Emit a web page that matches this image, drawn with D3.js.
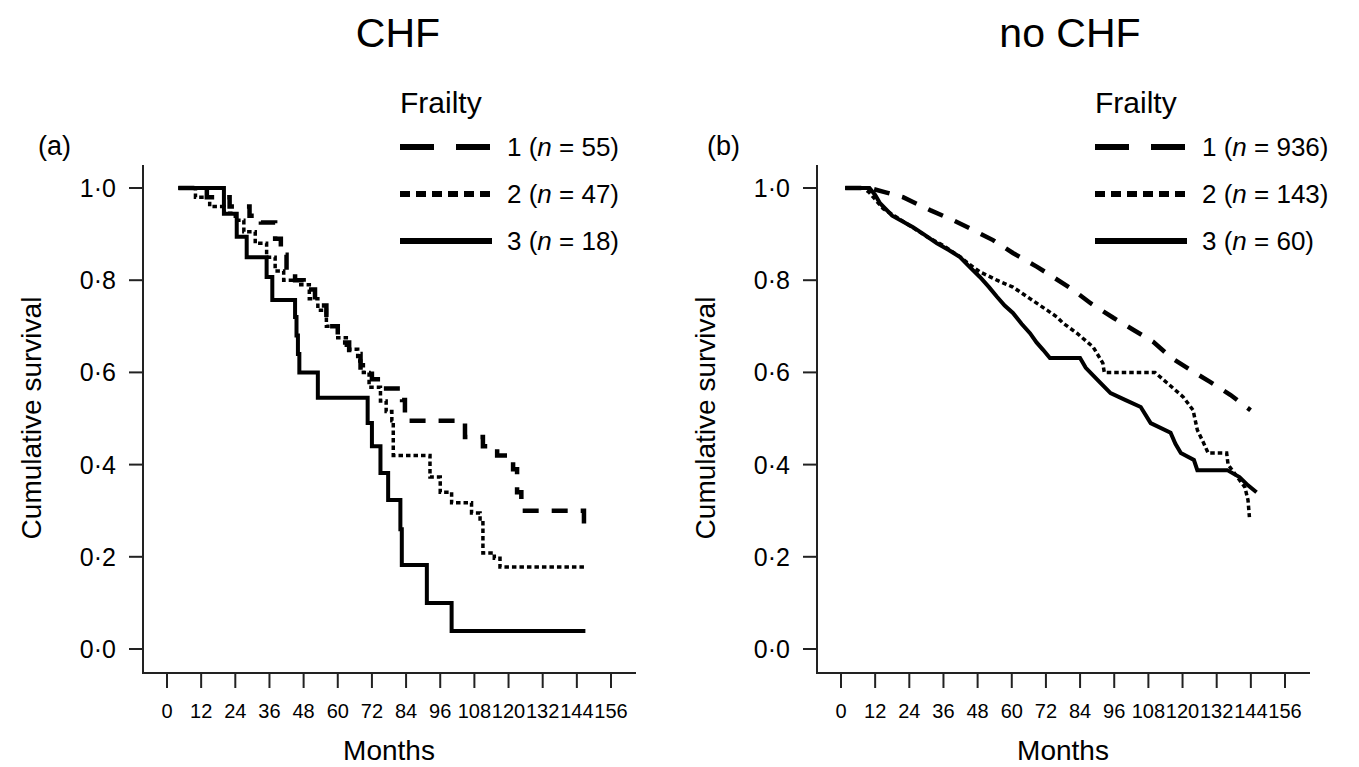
<!DOCTYPE html>
<html>
<head>
<meta charset="utf-8">
<script src="https://cdn.jsdelivr.net/npm/d3@7"></script>
<style>
  body { margin: 0; background: #fff; }
  svg { display: block; font-family: "Liberation Sans", Arial, Helvetica, sans-serif; }
</style>
</head>
<body>
<svg id="chart"></svg>
<script>
// tick values
const monthTicks = [0, 12, 24, 36, 48, 60, 72, 84, 96, 108, 120, 132, 144, 156];
const survivalTicks = [0, 0.2, 0.4, 0.6, 0.8, 1.0];

// legend
const frailtyLevels = ['1', '2', '3'];
const chfCounts = [55, 47, 18];
const noChfCounts = [936, 143, 60];

// Kaplan-Meier curves, [month, cumulative survival]
// (a) CHF
const chfFrailty1 = [[4, 1], [14, 0.98], [22, 0.96], [29, 0.94], [33, 0.925], [38, 0.89], [40, 0.855],
  [42, 0.82], [45, 0.80], [48, 0.78], [52, 0.745], [56, 0.70], [60, 0.665], [64, 0.64], [68, 0.605],
  [72, 0.585], [76, 0.565], [82.6, 0.54], [83.6, 0.495], [104.7, 0.46], [111, 0.44], [116, 0.42],
  [121.6, 0.39], [123, 0.34], [124.5, 0.30], [146.5, 0.26], [147, 0.26]];
const chfFrailty2 = [[4, 1], [10, 0.98], [15, 0.96], [20, 0.945], [24, 0.93], [27, 0.905], [31, 0.88],
  [35, 0.85], [38, 0.82], [41, 0.80], [47, 0.79], [50, 0.76], [53, 0.735], [56, 0.70], [60, 0.675],
  [63, 0.65], [67, 0.625], [69, 0.60], [71, 0.568], [75, 0.538], [77, 0.515], [79, 0.495], [79.5, 0.42],
  [92.4, 0.373], [96, 0.34], [100, 0.317], [107, 0.295], [110, 0.278], [111, 0.208], [115, 0.197],
  [117, 0.178], [147, 0.178]];
const chfFrailty3 = [[4, 1], [20, 0.944], [24.5, 0.894], [28, 0.85], [35, 0.807], [37, 0.757], [45, 0.72],
  [45.5, 0.68], [46, 0.64], [46.5, 0.60], [53, 0.545], [70.5, 0.49], [72, 0.44], [75, 0.382],
  [77.7, 0.323], [82, 0.26], [82.5, 0.182], [91.3, 0.10], [100, 0.039], [147, 0.039]];

// (b) no CHF
const noChfFrailty1 = [[1.5, 1], [10, 1], [16, 0.99], [21.8, 0.98], [31.3, 0.952], [39.4, 0.93],
  [46.4, 0.909], [53.4, 0.887], [60.4, 0.859], [68.9, 0.829], [74.5, 0.807], [81.5, 0.779], [87.7, 0.75],
  [95.8, 0.718], [102.8, 0.692], [109.8, 0.666], [115.8, 0.633], [122.8, 0.605], [129.8, 0.579],
  [136.9, 0.551], [143.9, 0.518]];
const noChfFrailty2 = [[1.5, 1], [8, 1], [10, 0.99], [14.8, 0.955], [20, 0.935], [25, 0.915], [30, 0.895],
  [36, 0.875], [42, 0.85], [45, 0.835], [48.8, 0.818], [54.8, 0.80], [60.4, 0.785], [66.4, 0.76],
  [72.4, 0.735], [75.9, 0.72], [78, 0.707], [82.9, 0.685], [88.6, 0.655], [92, 0.62], [92.5, 0.60],
  [110.3, 0.60], [114.6, 0.577], [120.2, 0.547], [123.7, 0.518], [125.2, 0.475], [127.4, 0.447],
  [129, 0.425], [135.5, 0.425], [136, 0.40], [141.9, 0.351], [143, 0.323], [143.5, 0.286]];
const noChfFrailty3 = [[1.5, 1], [10, 1], [12, 0.985], [13.7, 0.967], [18, 0.94], [25.3, 0.915], [29, 0.90],
  [33.7, 0.88], [38, 0.865], [41.8, 0.85], [45, 0.83], [48.8, 0.807], [52, 0.785], [54.8, 0.764],
  [57.5, 0.745], [60.4, 0.729], [63.5, 0.705], [66.4, 0.685], [68.7, 0.665], [71, 0.649], [73.4, 0.631],
  [84, 0.631], [86, 0.61], [90.2, 0.583], [94.7, 0.555], [100, 0.54], [105.3, 0.525], [108.8, 0.49],
  [115.8, 0.469], [117.5, 0.445], [119.4, 0.425], [124, 0.41], [125.2, 0.388], [135.7, 0.388],
  [140, 0.373], [143, 0.355], [146, 0.34]];

const width = 1359;
const height = 767;

const lineStyles = [
  { width: 4.5, dash: '16,13', legendDash: '34,22' },
  { width: 3.5, dash: '4.5,3', legendDash: '10,6' },
  { width: 4, dash: null, legendDash: null }
];

const svg = d3.select('#chart')
  .attr('width', width)
  .attr('height', height)
  .attr('viewBox', `0 0 ${width} ${height}`);

const fmt = v => d3.format('.1f')(v).replace('.', '\u00b7');

function drawPanel(cfg) {
  const g = svg.append('g');
  const axisX = cfg.axisX;

  const x = d3.scaleLinear().domain([0, 156]).range([axisX + 24, axisX + 468]);
  const y = d3.scaleLinear().domain([0, 1]).range([649, 188]);
  const xAxisY = 673;

  // axis lines
  g.append('line')
    .attr('x1', axisX).attr('x2', axisX)
    .attr('y1', 165).attr('y2', xAxisY)
    .attr('stroke', '#222').attr('stroke-width', 2);
  g.append('line')
    .attr('x1', axisX - 1).attr('x2', axisX + 493)
    .attr('y1', xAxisY).attr('y2', xAxisY)
    .attr('stroke', '#222').attr('stroke-width', 2);

  // y ticks
  g.selectAll('.ytick')
    .data(survivalTicks)
    .enter().append('line')
    .attr('x1', axisX - 14).attr('x2', axisX)
    .attr('y1', d => y(d)).attr('y2', d => y(d))
    .attr('stroke', '#222').attr('stroke-width', 2);
  g.selectAll('.ylabel')
    .data(survivalTicks)
    .enter().append('text')
    .attr('x', axisX - 27)
    .attr('y', d => y(d) + 9)
    .attr('text-anchor', 'end')
    .attr('font-size', 25)
    .text(fmt);

  // x ticks
  g.selectAll('.xtick')
    .data(monthTicks)
    .enter().append('line')
    .attr('x1', d => x(d)).attr('x2', d => x(d))
    .attr('y1', xAxisY).attr('y2', xAxisY + 15)
    .attr('stroke', '#222').attr('stroke-width', 2);
  g.selectAll('.xlabel')
    .data(monthTicks)
    .enter().append('text')
    .attr('x', d => x(d))
    .attr('y', 718)
    .attr('text-anchor', 'middle')
    .attr('font-size', 20)
    .text(d => d);

  // axis titles
  g.append('text')
    .attr('x', (x(0) + x(156)) / 2)
    .attr('y', 760)
    .attr('text-anchor', 'middle')
    .attr('font-size', 28)
    .text('Months');
  g.append('text')
    .attr('transform', `translate(${axisX - 102},418) rotate(-90)`)
    .attr('text-anchor', 'middle')
    .attr('font-size', 28)
    .text('Cumulative survival');

  // title and panel letter
  g.append('text')
    .attr('x', cfg.titleX)
    .attr('y', 47)
    .attr('text-anchor', 'middle')
    .attr('font-size', 41)
    .text(cfg.title);
  g.append('text')
    .attr('x', cfg.letterX)
    .attr('y', 155)
    .attr('font-size', 27)
    .text(cfg.letter);

  // curves
  cfg.series.forEach((data, i) => {
    const line = d3.line()
      .x(d => x(d[0]))
      .y(d => y(d[1]))
      .curve(cfg.stepped ? d3.curveStepAfter : d3.curveLinear);
    g.append('path')
      .datum(data)
      .attr('d', line)
      .attr('fill', 'none')
      .attr('stroke', '#000')
      .attr('stroke-width', lineStyles[i].width)
      .attr('stroke-dasharray', lineStyles[i].dash)
      .attr('stroke-linejoin', 'miter');
  });

  // legend
  const lg = g.append('g');
  lg.append('text')
    .attr('x', cfg.legendX)
    .attr('y', 113)
    .attr('font-size', 30)
    .text('Frailty');
  frailtyLevels.forEach((lvl, i) => {
    const ly = 147 + i * 47;
    lg.append('line')
      .attr('x1', cfg.legendX).attr('x2', cfg.legendX + 92)
      .attr('y1', ly).attr('y2', ly)
      .attr('stroke', '#000')
      .attr('stroke-width', 6)
      .attr('stroke-dasharray', lineStyles[i].legendDash);
    const t = lg.append('text')
      .attr('x', cfg.legendX + 107)
      .attr('y', ly + 9)
      .attr('font-size', 26);
    t.append('tspan').text(lvl + ' (');
    t.append('tspan').attr('font-style', 'italic').text('n');
    t.append('tspan').text(' = ' + cfg.counts[i] + ')');
  });
}

drawPanel({
  axisX: 143, title: 'CHF', titleX: 398, letter: '(a)', letterX: 38,
  legendX: 400, counts: chfCounts, stepped: true,
  series: [chfFrailty1, chfFrailty2, chfFrailty3]
});

drawPanel({
  axisX: 817, title: 'no CHF', titleX: 1070, letter: '(b)', letterX: 707,
  legendX: 1095, counts: noChfCounts, stepped: false,
  series: [noChfFrailty1, noChfFrailty2, noChfFrailty3]
});
</script>
</body>
</html>
